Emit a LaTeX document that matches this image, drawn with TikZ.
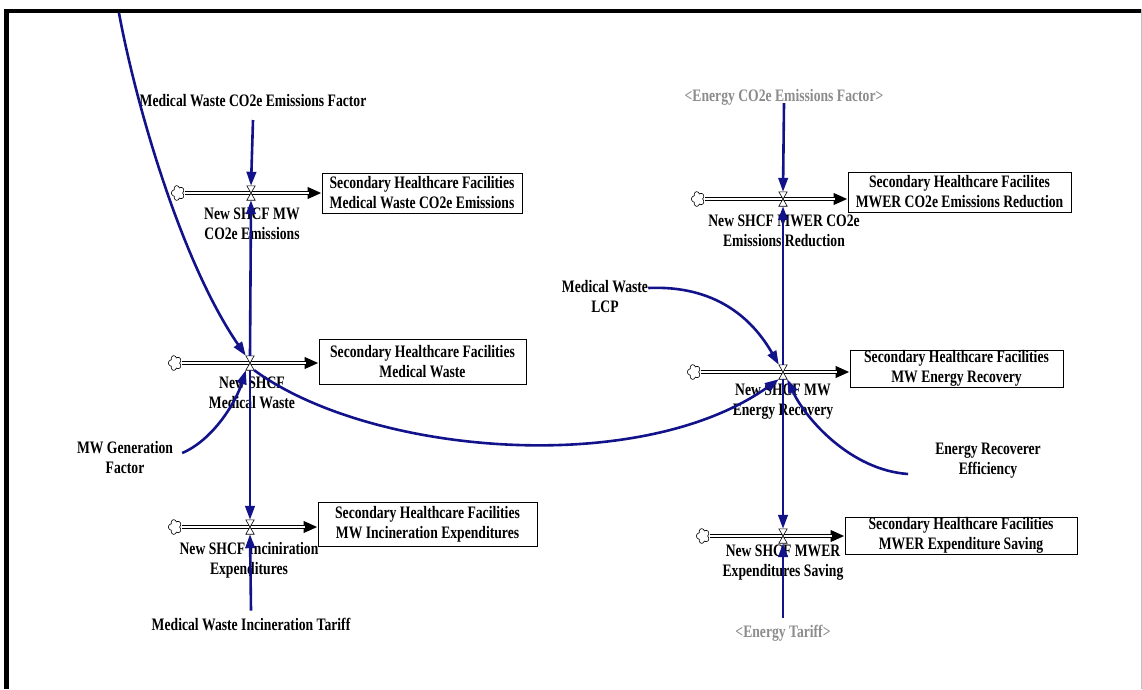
\documentclass[tikz,border=0pt]{standalone}
\usepackage{fontspec}
\setmainfont{Liberation Serif}[FakeStretch=0.78]
\usetikzlibrary{arrows.meta,calc}
\definecolor{linkblue}{RGB}{18,18,138}
\definecolor{shadowgray}{RGB}{140,140,140}

\begin{document}
\begin{tikzpicture}[x=1pt,y=-1pt,
  every node/.style={font=\bfseries\fontsize{17.5}{20}\selectfont, inner sep=0},
  stock/.style={draw=black, line width=0.8pt, align=center, inner sep=0pt, fill=white},
  valve/.style={minimum width=8pt, minimum height=14pt, inner sep=0},
  source/.style={minimum width=13pt, minimum height=15pt, inner sep=0},
  cloudline/.style={draw=black, line width=0.6pt, fill=white},
  ratelabel/.style={align=center},
  auxlabel/.style={align=center},
  shadowlabel/.style={align=center, text=shadowgray},
  pipe/.style={draw=white, line width=2.6pt, shorten >=13pt,
    preaction={draw=black, line width=4.8pt, shorten >=0pt, -{Triangle[length=14pt,width=11pt]}}},
  link/.style={draw=linkblue, line width=2.6pt, -{Triangle[length=14pt,width=9.5pt]}},
]
\useasboundingbox (0,0) rectangle (1142,689);

% window frame
\fill[black] (4,9) rectangle (1142,13);
\fill[black] (4,9) rectangle (9,689);
\draw[black!25, line width=0.8pt] (1141,9) -- (1141,689);

% stocks
\node[stock, minimum width=200pt, minimum height=40pt] (b1) at (422,193) {Secondary Healthcare Facilities\\Medical Waste CO2e Emissions};
\node[stock, minimum width=207pt, minimum height=45pt] (b2) at (422.5,361.5) {Secondary Healthcare Facilities\\Medical Waste};
\node[stock, minimum width=219pt, minimum height=44pt] (b3) at (427.5,524) {Secondary Healthcare Facilities\\MW Incineration Expenditures};
\node[stock, minimum width=223pt, minimum height=40pt] (b4) at (959.5,192) {Secondary Healthcare Facilites\\MWER CO2e Emissions Reduction};
\node[stock, minimum width=213pt, minimum height=37pt] (b5) at (956.5,368.5) {Secondary Healthcare Facilities\\MW Energy Recovery};
\node[stock, minimum width=232pt, minimum height=37pt] (b6) at (961,535.5) {Secondary Healthcare Facilities\\MWER Expenditure Saving};

% flow valves
\node[valve] (v1) at (251,193) {};
\node[valve] (v2) at (250,363) {};
\node[valve] (v3) at (250,527) {};
\node[valve] (v4) at (783,199) {};
\node[valve] (v5) at (783,372) {};
\node[valve] (v6) at (783,536) {};

% sources
\node[source] (c1) at (178,193) {};
\node[source] (c2) at (175,363) {};
\node[source] (c3) at (175,527) {};
\node[source] (c4) at (698,199) {};
\node[source] (c5) at (694,372) {};
\node[source] (c6) at (703,536) {};

% pipes
\draw[pipe] (c1.east) -- (b1.west |- v1);
\draw[pipe] (c2.east) -- (b2.west |- v2);
\draw[pipe] (c3.east) -- (b3.west |- v3);
\draw[pipe] (c4.east) -- (b4.west |- v4);
\draw[pipe] (c5.east) -- (b5.west |- v5);
\draw[pipe] (c6.east) -- (b6.west |- v6);

% cloud outlines of the sources
\foreach \c in {c1,c2,c3,c4,c5,c6}
  \draw[cloudline, shift={(\c.center)}]
    plot[domain=0:360, samples=100, smooth, variable=\t]
      ({(0.7+0.3*abs(sin(2.5*\t)))*6.5*cos(\t)}, {(0.7+0.3*abs(sin(2.5*\t)))*7.5*sin(\t)}) -- cycle;

% valve glyphs
\foreach \v in {v1,v2,v3,v4,v5,v6}
  \draw[black, line width=0.6pt, fill=white] (\v.north west) -- (\v.north east) -- (\v.south west) -- (\v.south east) -- cycle;

% rate names
\node[ratelabel] (r1) at (252,224) {New SHCF MW\\CO2e Emissions};
\node[ratelabel] (r2) at (252,393) {New SHCF\\Medical Waste};
\node[ratelabel] (r3) at (249,560) {New SHCF Inciniration\\Expenditures};
\node[ratelabel] (r4) at (784,231) {New SHCF MWER CO2e\\Emissions Reduction};
\node[ratelabel] (r5) at (783,402) {New SHCF MW\\Energy Recovery};
\node[ratelabel] (r6) at (783,563) {New SHCF MWER\\Expenditures Saving};

% auxiliaries
\node[auxlabel] (ef) at (253,101) {Medical Waste CO2e Emissions Factor};
\node[auxlabel] (tar) at (251,624) {Medical Waste Incineration Tariff};
\node[shadowlabel] (eef) at (784,97) {<Energy CO2e Emissions Factor>};
\node[shadowlabel] (et) at (783,633) {<Energy Tariff>};
\node[auxlabel] (lcp) at (605,297) {Medical Waste\\LCP};
\node[auxlabel] (eff) at (988,461) {Energy Recoverer\\Efficiency};
\node[auxlabel] (mwg) at (125,458) {MW Generation\\Factor};
\coordinate (topin) at (119,13);

% links
\draw[link] (253,120) -- (v1.north);
\draw[link] (v2.north) -- (v1.south);
\draw[link] (v2.south) -- (v3.north);
\draw[link] (tar.north) ++(0,-7) -- (v3.south);
\draw[link] (eef.south) ++(0,-2) -- (v4.north);
\draw[link] (v5.north) -- (v4.south);
\draw[link] (v5.south) -- (v6.north);
\draw[link] (et.north) ++(0,-7) -- (v6.south);

\draw[link] (topin) .. controls (135,100) and (180,260) .. (v2.north west);
\draw[link] ($(mwg.east)+(9,-5)$) .. controls (213,440) and (236,402) .. (v2.south west);
\draw[link] (v2.south east) .. controls (370,455) and (640,478) .. (v5.south west);
\draw[link] ($(lcp.east)+(0,-9)$) .. controls (715,285) and (752,318) .. (v5.north west);
\draw[link] ($(eff.west)+(-27,13)$) .. controls (850,470) and (805,418) .. (v5.south east);
\end{tikzpicture}
\end{document}
